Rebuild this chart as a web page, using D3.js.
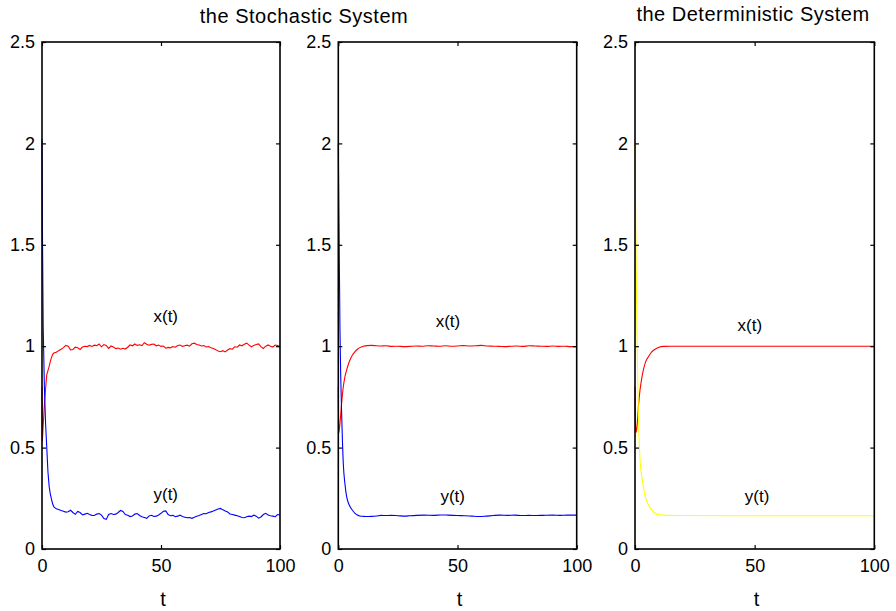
<!DOCTYPE html>
<html>
<head>
<meta charset="utf-8">
<script src="https://cdn.jsdelivr.net/npm/d3@7"></script>
<style>
    body { margin: 0; background: #fff; }
    svg { display: block; font-family: "Liberation Sans", Arial, Helvetica, sans-serif; }
    .tick text { font-size: 18px; fill: #000; }
    .tick line { stroke: #000; stroke-width: 1.2; }
</style>
</head>
<body>
<svg id="chart" width="896" height="611"></svg>
<script>
// values
const yTicks = [0, 0.5, 1, 1.5, 2, 2.5];
const xTicks = [0, 50, 100];
const titles = ['the Stochastic System', 'the Deterministic System'];

// stochastic system, strong noise
const t1 = [0, 0.15, 0.5, 1, 1.5, 2, 2.5, 3, 3.5, 4, 4.5,
    5, 6, 7, 8, 9, 10, 11, 12, 13, 14, 15, 16, 17, 18, 19, 20, 21, 22, 23, 24, 25, 26, 27, 28, 29, 30,
    31, 32, 33, 34, 35, 36, 37, 38, 39, 40, 41, 42, 43, 44, 45, 46, 47, 48, 49, 50,
    51, 52, 53, 54, 55, 56, 57, 58, 59, 60, 61, 62, 63, 64, 65, 66, 67, 68, 69, 70,
    71, 72, 73, 74, 75, 76, 77, 78, 79, 80, 81, 82, 83, 84, 85, 86, 87, 88, 89, 90,
    91, 92, 93, 94, 95, 96, 97, 98, 99, 100];
const x1 = [0.80, 0.53, 0.61, 0.71, 0.79, 0.86, 0.88, 0.90, 0.925, 0.945, 0.960,
    0.966, 0.970, 0.978, 0.985, 0.993, 1.004, 1.000, 0.982, 0.984, 0.995, 0.992, 0.984, 0.996, 1.000, 0.998, 1.004, 0.999, 1.005, 1.003, 1.011, 0.997, 1.008, 1.004, 0.989, 1.001, 0.996,
    0.988, 0.991, 0.985, 0.990, 0.986, 0.995, 1.006, 1.002, 1.011, 1.004, 1.007, 1.003, 1.017, 1.010, 1.005, 1.009, 1.011, 1.002, 1.006, 0.999,
    1.001, 0.990, 0.994, 0.992, 0.998, 0.995, 1.003, 1.006, 0.999, 1.002, 1.005, 1.000, 1.012, 1.015, 1.008, 1.006, 1.001, 1.003, 0.996, 0.998,
    0.992, 0.989, 0.983, 0.976, 0.973, 0.978, 0.972, 0.981, 0.988, 0.985, 0.997, 0.995, 1.006, 1.002, 1.010, 1.015, 1.005, 0.997, 1.004, 1.008,
    1.011, 0.998, 0.989, 1.000, 1.006, 1.000, 0.996, 1.006, 1.003, 0.998];
const y1 = [2.02, 1.62, 1.10, 0.80, 0.62, 0.50, 0.38, 0.31, 0.27, 0.245, 0.222,
    0.208, 0.198, 0.195, 0.190, 0.186, 0.182, 0.184, 0.191, 0.180, 0.171, 0.185, 0.180, 0.168, 0.172, 0.176, 0.170, 0.166, 0.165, 0.172, 0.175, 0.167, 0.150, 0.146, 0.170, 0.175, 0.170,
    0.172, 0.180, 0.190, 0.185, 0.170, 0.166, 0.160, 0.163, 0.172, 0.175, 0.165, 0.159, 0.155, 0.151, 0.163, 0.166, 0.160, 0.162, 0.168, 0.176,
    0.186, 0.188, 0.170, 0.164, 0.166, 0.159, 0.162, 0.167, 0.160, 0.157, 0.154, 0.155, 0.151, 0.156, 0.162, 0.165, 0.170, 0.175, 0.174, 0.180,
    0.183, 0.187, 0.192, 0.197, 0.200, 0.193, 0.187, 0.182, 0.173, 0.170, 0.167, 0.164, 0.160, 0.155, 0.154, 0.159, 0.162, 0.160, 0.167, 0.162,
    0.152, 0.158, 0.170, 0.176, 0.168, 0.164, 0.162, 0.159, 0.170, 0.168];

// stochastic system, weak noise
const t2x = [0, 0.2, 0.7, 1.4, 2.1, 2.8, 3.5, 4.2, 4.9, 6, 7, 8, 9, 10.5, 12, 14, 16, 18, 20, 22.5, 25, 27.5, 30,
    32.5, 35, 37.5, 40, 42.5, 45, 47.5, 50, 52.5, 55, 57.5, 60, 62.5, 65, 67.5, 70, 72.5, 75, 77.5, 80,
    82.5, 85, 87.5, 90, 92.5, 95, 97.5, 100];
const x2 = [0.80, 0.572, 0.62, 0.72, 0.80, 0.85, 0.883, 0.91, 0.932, 0.958, 0.973, 0.985, 0.993, 1.000, 1.003, 1.004, 1.002, 1.001, 1.002, 0.999, 1.000, 0.998, 0.999,
    1.001, 1.000, 1.002, 1.001, 1.000, 1.002, 1.000, 1.001, 1.003, 1.001, 1.002, 1.004, 1.001, 1.000, 0.999, 0.998, 1.000, 1.001, 0.999, 1.002,
    1.001, 1.000, 0.999, 1.001, 0.999, 1.000, 0.998, 0.998];
const t2y = [0, 0.3, 0.7, 1.0, 1.4, 2.1, 2.8, 3.5, 4.2, 4.9, 6, 7, 8, 9, 10.5, 12, 14, 16, 18, 20, 22, 25, 28, 30,
    33, 36, 40, 43, 46, 50, 53, 56, 59, 62, 65, 68, 71, 74, 77, 80, 83, 86, 90, 93, 96, 100];
const y2 = [2.00, 1.60, 1.08, 0.86, 0.67, 0.42, 0.32, 0.258, 0.228, 0.209, 0.190, 0.176, 0.168, 0.163, 0.161, 0.160, 0.161, 0.163, 0.166, 0.165, 0.166, 0.164, 0.162, 0.164,
    0.166, 0.167, 0.166, 0.168, 0.167, 0.165, 0.164, 0.162, 0.160, 0.162, 0.165, 0.167, 0.166, 0.167, 0.165, 0.166, 0.165, 0.166, 0.167, 0.166, 0.167, 0.167];

// deterministic system
const t3x = [0, 0.15, 0.4, 0.8, 1.4, 2.1, 2.8, 3.5, 4.5, 5.6, 7, 8.4, 10, 12, 15, 30, 60, 100];
const x3 = [0.80, 0.65, 0.575, 0.60, 0.70, 0.784, 0.84, 0.883, 0.925, 0.948, 0.972, 0.985, 0.995, 0.999, 1.0, 1.0, 1.0, 1.0];
const t3y = [0, 0.3, 0.6, 1.0, 1.4, 2.1, 2.8, 3.5, 4.5, 5.6, 7, 8.4, 10, 13, 20, 50, 100];
const y3 = [2.00, 1.60, 1.28, 0.93, 0.67, 0.44, 0.36, 0.307, 0.25, 0.217, 0.192, 0.176, 0.170, 0.166, 0.165, 0.164, 0.164];

const panels = [
    { left: 42, right: 280, curve: d3.curveLinear, series: [
        { t: t1, v: x1, color: '#ff0000' }, { t: t1, v: y1, color: '#0000ff' }],
      labels: [{ text: 'x(t)', t: 52, v: 1.12 }, { text: 'y(t)', t: 52, v: 0.24 }] },
    { left: 338.3, right: 576.7, curve: d3.curveMonotoneX, series: [
        { t: t2x, v: x2, color: '#ff0000' }, { t: t2y, v: y2, color: '#0000ff' }],
      labels: [{ text: 'x(t)', t: 46, v: 1.095 }, { text: 'y(t)', t: 48, v: 0.23 }] },
    { left: 635, right: 874.3, curve: d3.curveMonotoneX, series: [
        { t: t3x, v: x3, color: '#ff0000' }, { t: t3y, v: y3, color: '#ffff00' }],
      labels: [{ text: 'x(t)', t: 48, v: 1.075 }, { text: 'y(t)', t: 51, v: 0.23 }] },
];

const plotTop = 42, plotBottom = 549;
const svg = d3.select('#chart');
const y = d3.scaleLinear().domain([0, 2.5]).range([plotBottom, plotTop]);

panels.forEach((p) => {
    const x = d3.scaleLinear().domain([0, 100]).range([p.left, p.right]);
    const g = svg.append('g');

    const line = d3.line().x((d) => x(d[0])).y((d) => y(d[1])).curve(p.curve);
    p.series.forEach((s) => {
        g.append('path')
            .datum(s.t.map((t, i) => [t, s.v[i]]))
            .attr('fill', 'none')
            .attr('stroke', s.color)
            .attr('stroke-width', 1.1)
            .attr('d', line);
    });

    // inward ticks on all four sides, labels only left and bottom
    g.append('g').attr('transform', `translate(${p.left},0)`)
        .call(d3.axisLeft(y).tickValues(yTicks).tickSize(-4).tickPadding(7).tickFormat(String));
    g.append('g').attr('transform', `translate(${p.right},0)`)
        .call(d3.axisRight(y).tickValues(yTicks).tickSize(-4).tickFormat(''));
    g.append('g').attr('transform', `translate(0,${plotBottom})`)
        .call(d3.axisBottom(x).tickValues(xTicks).tickSize(-4).tickPadding(10).tickFormat(String));
    g.append('g').attr('transform', `translate(0,${plotTop})`)
        .call(d3.axisTop(x).tickValues(xTicks).tickSize(-4).tickFormat(''));
    g.selectAll('.domain').remove();
    g.selectAll('.tick text').attr('font-family', null).attr('font-size', null);

    g.append('rect')
        .attr('x', p.left).attr('y', plotTop)
        .attr('width', p.right - p.left).attr('height', plotBottom - plotTop)
        .attr('fill', 'none').attr('stroke', '#000').attr('stroke-width', 1.6);

    p.labels.forEach((l) => {
        g.append('text')
            .attr('x', x(l.t)).attr('y', y(l.v))
            .attr('text-anchor', 'middle')
            .attr('font-size', 17)
            .text(l.text);
    });

    g.append('text')
        .attr('x', (p.left + p.right) / 2 + 2).attr('y', 606)
        .attr('text-anchor', 'middle')
        .attr('font-size', 20)
        .text('t');
});

svg.append('text').attr('x', 304).attr('y', 23)
    .attr('text-anchor', 'middle').attr('font-size', 20).attr('letter-spacing', 0.5)
    .text(titles[0]);
svg.append('text').attr('x', 753).attr('y', 21)
    .attr('text-anchor', 'middle').attr('font-size', 20).attr('letter-spacing', 0.5)
    .text(titles[1]);
</script>
</body>
</html>
